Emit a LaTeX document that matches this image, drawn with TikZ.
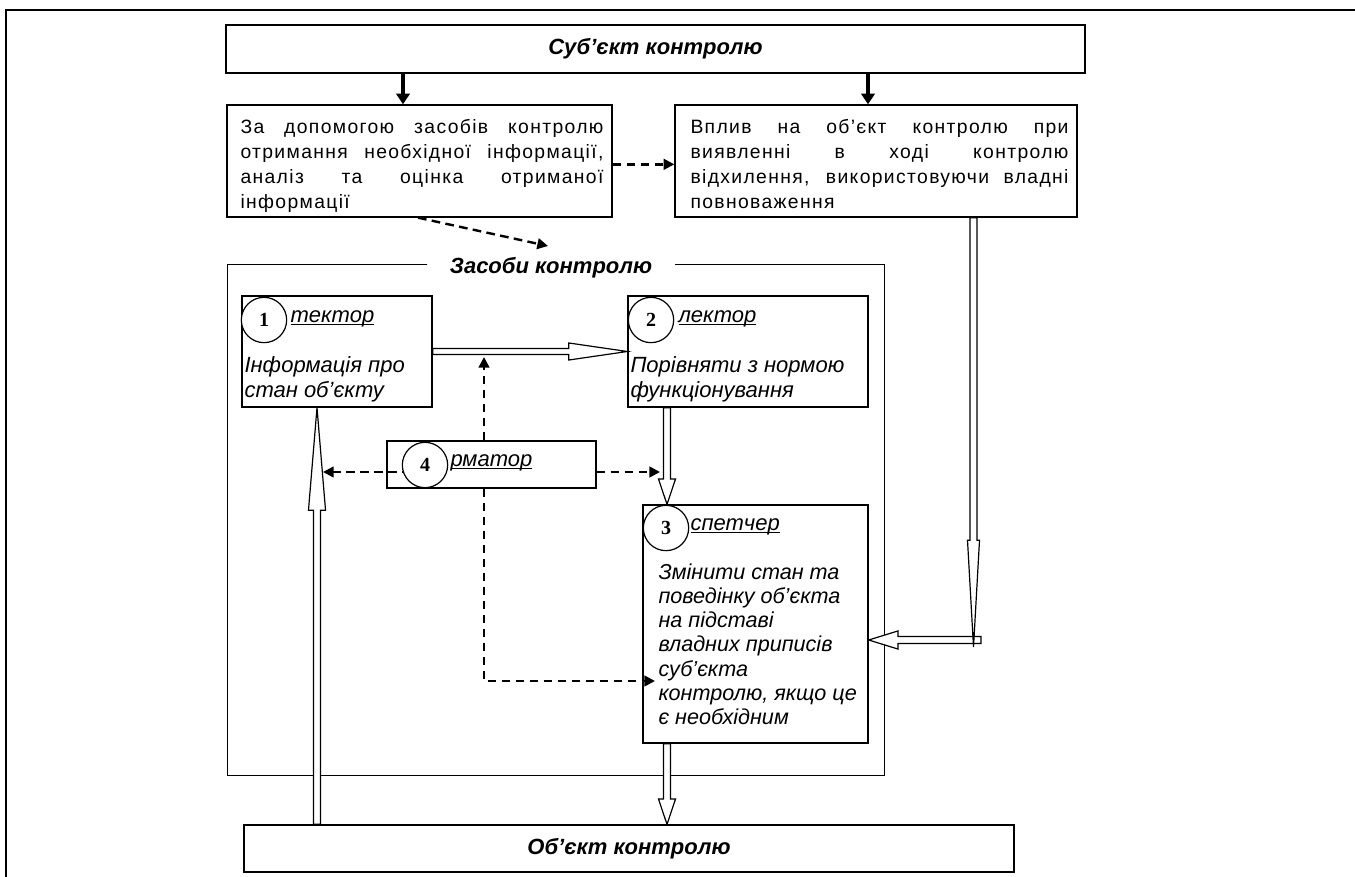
\documentclass[tikz,border=0pt]{standalone}
\usepackage{fontspec}
\setmainfont{Liberation Sans}
\newfontfamily\spacedfont[LetterSpace=7]{Liberation Sans}
\newfontfamily\numfont{Liberation Serif}
\usetikzlibrary{arrows.meta,calc}

\tikzset{every picture/.style={line width=0.75pt}}
\tikzset{
  box/.style={draw, line width=1pt, inner sep=0pt},
  titletext/.style={font=\bfseries\itshape\fontsize{16.5}{19}\selectfont},
  bodytext/.style={font=\itshape\fontsize{16.5}{18.4}\selectfont, align=left, inner sep=0pt, anchor=north west},
  spacedtext/.style={font=\spacedfont\fontsize{14.5}{18.7}\selectfont, align=justify, inner sep=0pt, anchor=north west},
  tagtext/.style={font=\itshape\fontsize{16.5}{19}\selectfont, inner sep=0pt, anchor=base west},
  numcircle/.style={draw, circle, fill=white, line width=0.9pt, minimum size=34pt, inner sep=0pt,
    font=\numfont\bfseries\fontsize{15}{17}\selectfont},
  dasharrow/.style={line width=1.8pt, dash pattern=on 6.5pt off 4pt, -{Triangle[length=8pt,width=8pt]}},
  boldarrow/.style={line width=3pt, -{Triangle[length=8pt,width=10pt]}},
  hollow/.style={draw, fill=white, line width=0.9pt, line join=miter},
}

% hollow block arrow: from, to, shaft half width, head half width, head length
\newcommand{\hollowarrow}[5]{%
  \coordinate (ha-a) at (#1);
  \coordinate (ha-b) at (#2);
  \coordinate (ha-h) at ($(ha-b)!#5!(ha-a)$);
  \draw[hollow] ($(ha-a)!#3!90:(ha-b)$) -- ($(ha-h)!#3!90:(ha-b)$) -- ($(ha-h)!#4!90:(ha-b)$) -- (ha-b)
    -- ($(ha-h)!#4!-90:(ha-b)$) -- ($(ha-h)!#3!-90:(ha-b)$) -- ($(ha-a)!#3!-90:(ha-b)$) -- cycle;
}

\begin{document}
\begin{tikzpicture}[x=0.75pt,y=0.75pt,yscale=-1,xscale=1]
\useasboundingbox (0,0) rectangle (1355,877);

%Frame
\draw[line width=2.2pt] (6,877) -- (6,10) -- (1355,10);

% Text Node
\node[box, titletext, minimum width=644.25pt, minimum height=36pt] (subj) at (655.5,49) {Суб’єкт контролю};
% Text Node
\node[box, minimum width=288.75pt, minimum height=84pt] (zasoby) at (419.5,161) {};
\node[spacedtext, text width=272.25pt] (zasobytxt) at (240,119)
  {\tolerance=10000 За допомогою засобів контролю\linebreak отримання необхідної інформації,\linebreak аналіз та оцінка отриманої\linebreak інформації};
% Text Node
\node[box, minimum width=301.5pt, minimum height=84pt] (vplyv) at (876,161) {};
\node[spacedtext, text width=283.5pt] (vplyvtxt) at (690,119)
  {\tolerance=10000 Вплив на об’єкт контролю при\linebreak виявленні в ході контролю\linebreak відхилення, використовуючи владні\linebreak повноваження};

%Means frame
\node[minimum width=492pt, minimum height=382.5pt, inner sep=0pt] (means) at (556,520) {};
\node[titletext, inner sep=0pt] (meanslbl) at (551,268) {Засоби контролю};
\draw[line width=1pt] ([xshift=-16.5pt]meanslbl.west |- means.north) -- (means.north west) -- (means.south west)
  -- (means.south east) -- (means.north east) -- ([xshift=16.5pt]meanslbl.east |- means.north);

% Text Node
\node[box, minimum width=142.5pt, minimum height=83.25pt] (det) at (337,351.5) {};
\node[box, minimum width=180pt, minimum height=83.25pt] (sel) at (748,351.5) {};
\node[box, minimum width=156.75pt, minimum height=35.25pt] (inf) at (491.5,464.5) {};
\node[box, minimum width=168.75pt, minimum height=178.5pt] (disp) at (755.5,624) {};
\node[box, titletext, minimum width=577.5pt, minimum height=35.25pt] (obj) at (629,848.5) {Об’єкт контролю};

% Text Node
\node[bodytext] (dettxt) at (244,356.5) {Інформація про\\стан об’єкту};
\node[bodytext] (seltxt) at (630,356.5) {Порівняти з нормою\\функціонування};
\node[bodytext, font=\itshape\fontsize{16.2}{18.2}\selectfont] (disptxt) at (658,563)
  {Змінити стан та\\поведінку об’єкта\\на підставі\\владних приписів\\суб’єкта\\контролю, якщо це\\є необхідним};

%Thick arrows
\coordinate (t1) at (403,0);
\coordinate (t2) at (868,0);
\draw[boldarrow] (subj.south -| t1) -- (zasoby.north -| t1);
\draw[boldarrow] (subj.south -| t2) -- (vplyv.north -| t2);

%Dashed arrows
\coordinate (dtip) at (548,246);
\coordinate (vx) at (484,0);
\coordinate (uptip) at (484,357);
\coordinate (l4) at (323,472);
\coordinate (r4) at (660,472);
\coordinate (disptip) at (655,681);
\draw[dasharrow] ([yshift=2.5pt]zasoby.east) -- ([yshift=2.5pt]vplyv.west);
\draw[dasharrow] (zasoby.south -| 418,0) -- (dtip);
\draw[dasharrow] (inf.north -| vx) -- (uptip);
\draw[dasharrow] (inf.south -| vx) |- (disptip);
\draw[dasharrow] (425,472) -- (l4);
\draw[dasharrow] (inf.east |- r4) -- (r4);

%Hollow arrows
\coordinate (hx1) at (317,0);
\coordinate (hx2) at (667,0);
\coordinate (hx3) at (973.5,0);
\coordinate (rtip) at (973.5,647);
\coordinate (rc) at (981,640);
\coordinate (dispin) at (disp.east |- rc);
\hollowarrow{det.east}{sel.west}{2.3pt}{6.4pt}{44pt}
\hollowarrow{sel.south -| hx2}{disp.north -| hx2}{2.6pt}{6.4pt}{19pt}
\hollowarrow{disp.south -| hx2}{obj.north -| hx2}{2.6pt}{6.4pt}{19pt}
\hollowarrow{obj.north -| hx1}{det.south -| hx1}{2.6pt}{6.4pt}{77pt}
\hollowarrow{rc}{dispin}{2.6pt}{6.8pt}{22pt}
\hollowarrow{vplyv.south -| hx3}{rtip}{2.6pt}{4.5pt}{80pt}

%Circles
\node[numcircle] (c1) at (264,320) {1};
\node[numcircle] (c2) at (651,320) {2};
\node[numcircle] (c3) at (666,528) {3};
\node[numcircle] (c4) at (425,465) {4};
\node[tagtext] (dettag) at (290,322) {\underline{\smash{тектор}}};
\node[tagtext] (seltag) at (678,322) {\underline{\smash{лектор}}};
\node[tagtext] (disptag) at (690,530) {\underline{\smash{спетчер}}};
\node[tagtext] (inftag) at (450,466) {\underline{\smash{рматор}}};

\end{tikzpicture}
\end{document}
